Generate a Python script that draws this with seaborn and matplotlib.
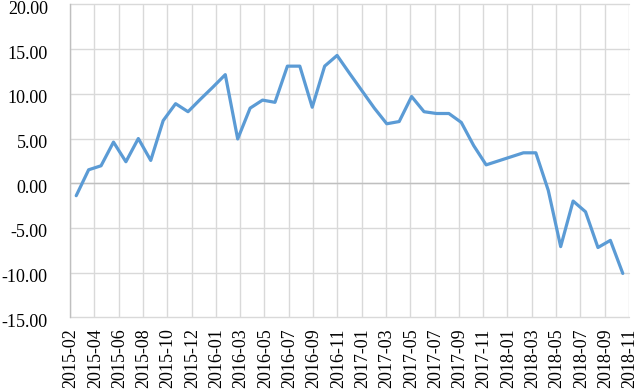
import numpy as np
import pandas as pd
import matplotlib
matplotlib.use("Agg")
import matplotlib.pyplot as plt
import matplotlib.transforms as mtransforms
import seaborn as sns

# ---- data ----
values = [-1.4, 1.5, 1.95, 4.6, 2.4, 5.0, 2.55, 7.0, 8.9, 8.0,
          9.4, 10.75, 12.15, 4.95, 8.4, 9.3, 9.05, 13.1, 13.1, 8.5,
          13.1, 14.3, 12.3, 10.35, 8.4, 6.65, 6.9, 9.7, 8.0, 7.8,
          7.8, 6.8, 4.2, 2.05, 2.5, 2.95, 3.4, 3.4, -0.8, -7.1,
          -2.0, -3.2, -7.2, -6.4, -10.1]
tick_labels = ["2015-02", "2015-04", "2015-06", "2015-08", "2015-10", "2015-12",
               "2016-01", "2016-03", "2016-05", "2016-07", "2016-09", "2016-11",
               "2017-01", "2017-03", "2017-05", "2017-07", "2017-09", "2017-11",
               "2018-01", "2018-03", "2018-05", "2018-07", "2018-09", "2018-11"]
y_ticks = [-15, -10, -5, 0, 5, 10, 15, 20]

df = pd.DataFrame({"idx": np.arange(len(values)), "value": values})

sns.set_theme(style="white")
plt.rcParams["font.family"] = ["Liberation Serif", "DejaVu Serif"]

fig = plt.figure(figsize=(6.37, 3.92), dpi=100)
ax = fig.add_axes([70/637, 1 - 317.2/392, 559/637, (317.2 - 4.5)/392])

n = len(values)
xpos = np.linspace(-0.5, n - 0.5, len(tick_labels))
ax.set_xlim(-0.5, n - 0.5)
ax.set_ylim(-15, 20)

# grid
for xv in xpos:
    ax.axvline(xv, color="#D9D9D9", lw=1.0, zorder=0)
for yv in y_ticks:
    ax.axhline(yv, color="#D9D9D9", lw=1.0, zorder=0, clip_on=False)
ax.axhline(0, color="#BFBFBF", lw=1.0, zorder=1)

sns.lineplot(data=df, x="idx", y="value", ax=ax, color="#5B9BD5",
             linewidth=2.3, zorder=3)

for s in ["top", "right", "bottom"]:
    ax.spines[s].set_visible(False)
ax.spines["left"].set_color("#BFBFBF")
ax.spines["left"].set_linewidth(1.0)

ax.set_xticks(xpos)
ax.set_xticklabels(tick_labels, rotation=90, fontsize=13, color="black")
ax.set_yticks(y_ticks)
ax.set_yticklabels([f"{v:.2f}" for v in y_ticks], fontsize=13, color="black")
ax.tick_params(axis="x", length=0, pad=8)
ax.tick_params(axis="y", length=0, pad=16)
ax.set_xlabel("")
ax.set_ylabel("")

dx = mtransforms.ScaledTranslation(1/100, 0, fig.dpi_scale_trans)
for lab in ax.get_xticklabels():
    lab.set_transform(lab.get_transform() + dx)
dy = mtransforms.ScaledTranslation(0, -3/100, fig.dpi_scale_trans)
for lab in ax.get_yticklabels():
    lab.set_transform(lab.get_transform() + dy)

fig.savefig("out.png", dpi=100)
